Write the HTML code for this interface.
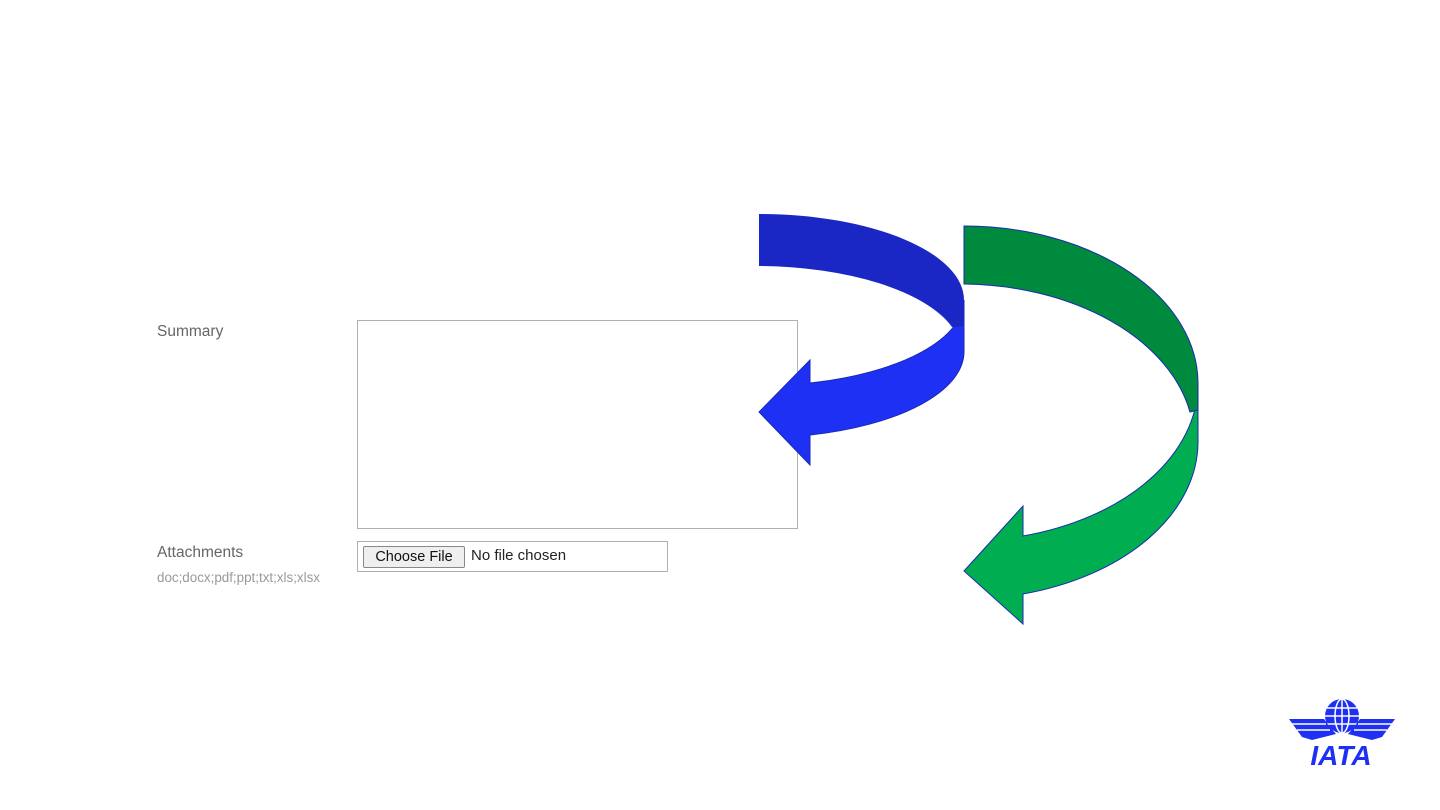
<!DOCTYPE html>
<html><head><meta charset="utf-8"><style>
body{margin:0;width:1440px;height:810px;background:#fff;position:relative;overflow:hidden;font-family:"Liberation Sans",Arial,sans-serif}
.t{position:absolute;color:#666;font-size:15.5px}
</style></head><body>
<div class="t" style="left:157px;top:323px">Summary</div>
<div style="position:absolute;left:357px;top:320px;width:439px;height:207px;border:1px solid #b0b0b0"></div>
<div class="t" style="left:157px;top:544px">Attachments</div>
<div class="t" style="left:157px;top:570px;font-size:13.4px;color:#999">doc;docx;pdf;ppt;txt;xls;xlsx</div>
<div style="position:absolute;left:357px;top:541px;width:309px;height:29px;border:1px solid #b0b0b0"></div>
<div style="position:absolute;left:363px;top:546px;width:100px;height:20px;border:1px solid #888;border-radius:2px;background:#efefef;font-size:14.5px;line-height:20px;text-align:center;color:#111">Choose File</div>
<div style="position:absolute;left:471px;top:547px;font-size:15px;color:#222">No file chosen</div>
<svg width="1440" height="810" style="position:absolute;left:0;top:0">
<g stroke="#1a2ab0" stroke-width="1">
<path d="M964,300 L964,352 A205,86 0 0 1 810,435 L810,465 L759,412 L810,360 L810,383 A205,86 0 0 0 964,300 Z" fill="#1f30f5"/>
<path d="M759,214 A205,86 0 0 1 964,300 L964,326 L952,327 A205,86 0 0 0 759,266 Z" fill="#1a27c4" stroke="none"/>
<path d="M1198,384 L1198,442 A234,157.5 0 0 1 1023,594 L1023,624 L964,571 L1023,506 L1023,536 A234,157.5 0 0 0 1198,384 Z" fill="#00ad50"/>
<path d="M964,226 A234,157.5 0 0 1 1198,384 L1198,410 L1190,412 A234,157.5 0 0 0 964,284 Z" fill="#008a3e"/>
</g>
<g fill="#1f30f5">
<circle cx="1342" cy="716" r="17"/>
<g stroke="#fff" stroke-width="1.5" fill="none"><ellipse cx="1342" cy="716" rx="7" ry="17"/><line x1="1342" y1="699" x2="1342" y2="733"/><line x1="1325" y1="716" x2="1359" y2="716"/><line x1="1327" y1="708" x2="1357" y2="708"/><line x1="1327" y1="724" x2="1357" y2="724"/></g>
<path d="M1289,719 L1324,719 L1329,726 L1336,734 L1312,740 L1302,737 Z"/>
<path d="M1395,719 L1360,719 L1355,726 L1348,734 L1372,740 L1382,737 Z"/>
<g stroke="#fff" stroke-width="1.5"><line x1="1292" y1="724" x2="1326" y2="724"/><line x1="1297" y1="730" x2="1330" y2="730"/><line x1="1392" y1="724" x2="1358" y2="724"/><line x1="1387" y1="730" x2="1354" y2="730"/></g>
<text x="1341" y="765" text-anchor="middle" font-family="Liberation Sans" font-weight="bold" font-style="italic" font-size="28">IATA</text>
</g>
</svg>
</body></html>
